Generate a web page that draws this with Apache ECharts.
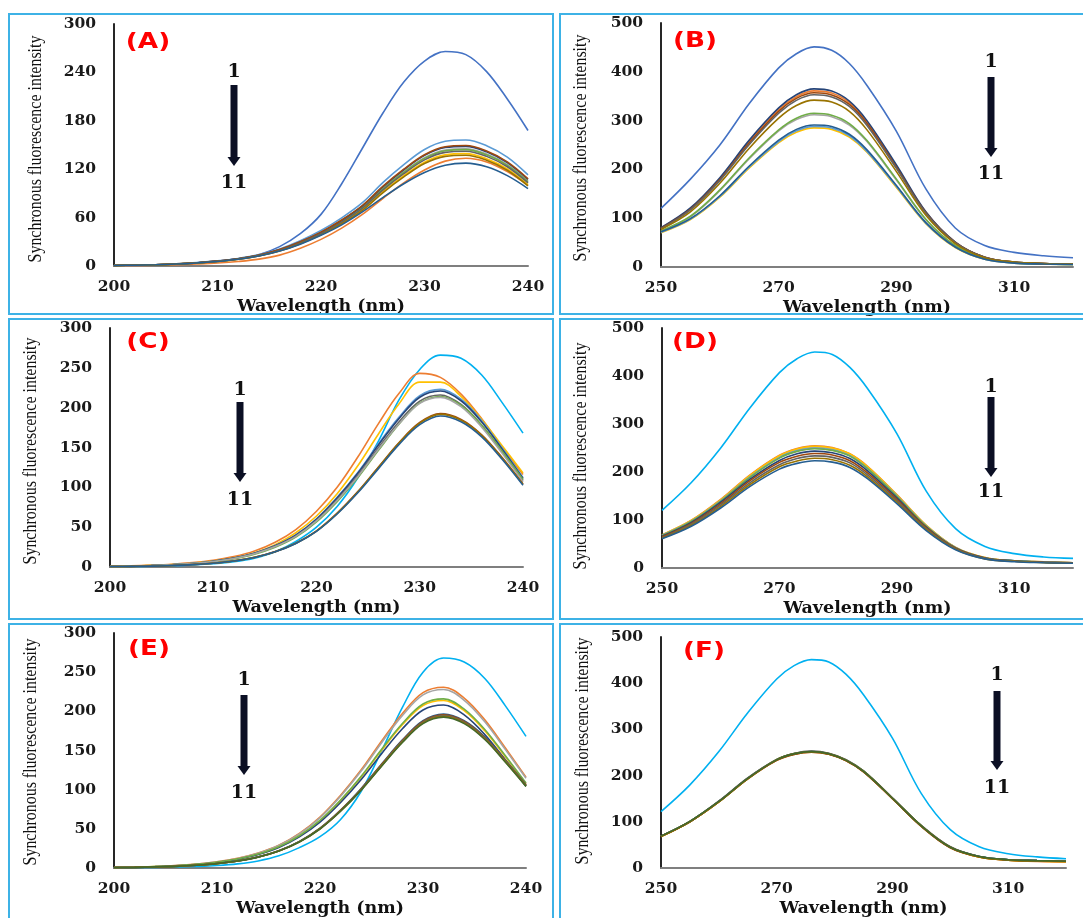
<!DOCTYPE html>
<html>
<head>
<meta charset="utf-8">
<script src="https://cdn.jsdelivr.net/npm/echarts@6/dist/echarts.min.js"></script>
<style>
  html, body { margin: 0; padding: 0; background: #fff; }
  #main { width: 1083px; height: 918px; }
</style>
</head>
<body>
<div id="main"></div>
<script>
// wavelengths (nm)
const wlShort = [200,202,204,206,208,210,212,214,216,218,220,222,224,226,228,230,232,234,236,238,240]
const wlLong = [250,255,260,265,270,273,276,279,282,285,290,295,300,305,310,315,320]
const labelsShort = [200,210,220,230,240]
const labelsLong = [250,270,290,310]

const panelTags = ['(A)','(B)','(C)','(D)','(E)','(F)']
const yTitle = 'Synchronous fluorescence intensity'

// (A) spectra 1..11
const specA = [
  [1,1,1.5,2.5,4,6,9,14,24,40,64,102,146,190,228,254,266,262,241,207,168],
  [0.5,0.7,1,1.6,2.5,3.7,5.6,8.5,13.5,22,33,47,64,84,103,119,130,133.5,129,117,100],
  [0.7,1,1.5,2.5,3.9,5.8,8.8,13.1,19.7,29.2,40.9,55.5,73,96.4,116.8,134.3,143.8,145.3,138.7,125.6,105.1],
  [0.7,1,1.4,2.4,3.8,5.6,8.4,12.6,18.9,28,39.2,53.2,70,92.4,112,128.8,137.9,139.3,133,120.4,100.8],
  [0.8,1.1,1.6,2.7,4.2,6.3,9.4,14.1,21.2,31.4,44,59.7,78.5,103.6,125.6,144.4,154.6,156.2,149.2,135,113],
  [0.7,1,1.5,2.5,3.9,5.8,8.7,13,19.6,29,40.6,55.1,72.5,95.7,116,133.4,142.8,144.3,137.8,124.7,104.4],
  [0.7,1,1.5,2.5,4,6,8.9,13.4,20.1,29.8,41.7,56.6,74.5,98.3,119.2,137.1,146.8,148.3,141.6,128.1,107.3],
  [0.8,1.1,1.5,2.6,4.1,6,9,13.5,20.3,30,42,57,75,99,120,138,147.8,149.3,142.5,129,108],
  [0.7,1,1.4,2.4,3.9,5.7,8.6,12.9,19.3,28.6,40,54.3,71.5,94.4,114.4,131.6,140.9,142.3,135.9,123,103],
  [0.7,1,1.4,2.3,3.7,5.5,8.3,12.4,18.6,27.6,38.6,52.4,69,91.1,110.4,127,135.9,137.3,131.1,118.7,99.4],
  [0.7,1,1.5,2.4,3.8,5.6,8.3,12.3,18.5,27,38,51,67,85,102,116,125,127.5,123,112,96]
]

// (B)
const specB = [
  [120,180,250,335,408,437,451,444,417,372,278,160,80,44,30,23,19],
  [80,119.5,181,257,322,349,361,356.5,337,297,206,112,51,20,10,7,6],
  [73,103,156.5,222,279,302,312,308,291,257,178,97,44,18,9,6,5],
  [70,97,143,203,255,276,285,282,266,235,163,89,40,16,8,6,5],
  [71,98,144.5,205,257,279,288,285,269,237,165,90,41,16,8,6,5],
  [74,104,158,224,281,305,315,311,294,259,180,98,44,18,9,6,5],
  [80.5,121,183,260,326,353,365,360.5,340,300,209,113,51,20,10,7,6],
  [79,118,179,254,319,345.5,357,352.5,333,294,204,111,50,20,10,7,6],
  [78,117,177,251,315,341.5,353,348.5,329,290,202,110,50,20,10,7,6],
  [77,113,171.5,243.5,305,331,342,338,319,281,195.5,106,48,19,10,7,6],
  [72,99,146,207,260,282,291,288,272,240,167,91,41,16,8,6,5]
]

// (C)
const specC = [
  [0.5,0.7,1,1.5,2.5,4,6.5,11,19,32,50,76,112,158,210,248,266,262,241,206,168],
  [1,1.5,2.3,3.5,5.5,8.5,13,20,31,47,70,100,138,180,218,243,238,217,186,150,116],
  [0.8,1.2,2,3,4.8,7.5,11.5,18,28,43,64,92,127,167,205,232,232,214,185,152,118],
  [0.7,1.1,1.8,2.9,4.5,7.2,11.2,17.5,26.9,40.3,60.5,87.4,118.7,154.6,188.2,215,222.9,210.6,183.7,149,112],
  [0.7,1.1,1.8,2.9,4.4,7.1,11.1,17.3,26.6,40,59.9,86.6,117.7,153.2,186.5,213.1,220.9,208.7,182,147.6,111],
  [0.7,1.1,1.7,2.8,4.3,6.9,10.9,16.9,26,39,58.6,84.6,115,149.7,182.3,208.3,215.9,204,178,144.3,108.5],
  [0.6,1,1.6,2.6,4.1,6.6,10.3,16,24.8,37.5,56.5,82,112,146.5,179.5,206,214,203,178,145,110],
  [0.6,1,1.7,2.8,4.3,6.8,10.7,16.7,25.7,38.5,57.8,83.5,113.4,147.7,179.8,205.4,212.9,201.2,175.5,142.3,107],
  [0.6,0.8,1.2,1.9,3.1,4.8,7.7,12.2,19.3,29.9,45.4,67.6,94.6,125.5,156.3,181.4,192.6,185.3,166,137,104.2],
  [0.6,0.8,1.2,1.9,3.1,4.8,7.7,12.1,19.2,29.8,45.1,67.2,94.1,124.8,155.5,180.5,191.6,184.3,165.1,136.3,103.7],
  [0.6,0.8,1.1,1.9,3,4.8,7.6,12,19,29.5,44.7,66.5,93.1,123.5,153.9,178.6,189.6,182.4,163.4,134.9,102.6]
]

// (D)
const specD = [
  [120,178,250,334,407,436,450,445,418,374,280,160,82,45,30,23,20],
  [69,99.5,143,194,235,249,254.5,251,238,212,153,89,43,22,15,13,11],
  [68,98,141,192,232,246,251.5,248,235.5,209,151,88,43,21,15,13,11],
  [69,99,142,193,234,248,253.5,250,237.5,211,152,89,43,22,15,13,11],
  [68,97.5,140,190,230,244,249.5,246,234,207.5,150,87.5,42.5,21,15,12.5,11],
  [67,97,139,189,229,243,248.5,245,233,207,149,87,42,21,15,12,11],
  [66,95,137,185,224,238,243.5,240,228,202.5,146,85,41,21,15,12,11],
  [65,93,134,182,220,233,238.5,235.5,223.5,198,143,84,41,20,14,12,11],
  [63,91,131,178,215,228,233.5,230.5,219,194,140,82,40,20,14,12,10],
  [62,89,128,174,211,223,228.5,225.5,214,190,137,80,39,19,14,11,10],
  [61,87,125,170,206,218,223.5,220.5,209.5,186,134,78,38,19,13,11,10]
]

// (E)
const specE = [
  [0.3,0.5,0.8,1.2,2,3.2,5.3,9,15.5,26,40,62,98,150,205,250,268,263,242,207,168],
  [0.7,1.2,1.9,3,4.9,7.9,12.3,19,29,44.1,65,92.8,125.3,162.4,197.2,223.9,230.8,216.9,189.1,153.1,116],
  [0.7,1.1,1.8,3,4.8,7.8,12.1,18.8,28.6,43.5,64.1,91.6,123.7,160.3,194.7,221,227.9,214.1,186.6,151.1,114.5],
  [0.6,1.1,1.7,2.8,4.5,7.3,11.4,17.6,26.9,40.9,60.2,86,116.1,150.5,182.8,207.5,213.9,201,175.2,141.9,107.5],
  [0.6,1,1.7,2.7,4.4,7.1,11.1,17.1,26.1,39.7,58.5,83.6,112.9,146.3,177.7,201.7,208,195.4,170.3,137.9,104.5],
  [0.7,1.1,1.7,2.8,4.6,7.4,11.5,17.8,27.1,41.2,60.8,86.8,117.2,151.9,184.5,209.4,215.9,202.9,176.9,143.2,108.5],
  [0.6,0.8,1.4,2.2,3.5,5.7,9.1,14.2,22.1,33.9,50.8,73.9,101.5,133,163.5,188.1,196.6,188.1,167.5,137.9,106.4],
  [0.6,0.8,1.4,2.2,3.5,5.7,9,14.1,22,33.7,50.6,73.5,100.9,132.3,162.7,187.2,195.6,187.2,166.6,137.2,105.8],
  [0.6,0.8,1.4,2.1,3.5,5.7,9,14,21.8,33.5,50.3,73.1,100.4,131.6,161.9,186.2,194.6,186.2,165.8,136.5,105.3],
  [0.6,0.8,1.4,2.1,3.5,5.6,8.9,14,21.7,33.4,50.1,72.8,99.9,131,161,185.3,193.6,185.3,164.9,135.8,104.8],
  [0.6,0.8,1.4,2.1,3.5,5.6,8.9,13.9,21.6,33.2,49.8,72.4,99.4,130.3,160.2,184.3,192.6,184.3,164,135.1,104.2]
]

// (F)
const specF = [
  [122,180,252,336,409,438,451,446,419,375,281,161,83,46,31,24,20],
  [68,100,143,193,233,246,250.5,246,232,208,150,90,44,24,17,14,13],
  [69,101,144,195,235,248,252.5,248,234,210,152,92,46,25,18,16,15],
  [68,100,143,194,234,247,251.5,247,233,209,151,91,45,24,17,15,13.5],
  [69,101,144,194,234,247,252,247.5,233,209,151,91,45,25,18,16,14.5],
  [69,101,144,194,235,248,252,248,234,210,151,91,45,25,18,16,14.5],
  [69,100,144,194,234,247,251.5,247,233,209,151,91,45,25,18,16,14.5],
  [68,100,143,193,233,246,250.5,246,232,208,150,90,44,24,17,15,14],
  [69,101,145,195,235,248,253,248.5,234.5,210,152,92,46,25,18,16,15],
  [68,100,143,193,234,247,251,247,233,209,151,91,45,24,17,15,14],
  [69,101,144,194,234,247,252,247.5,233,209,151,91,45,25,18,16,14.5]
]

// line colours (Excel-like palette)
const colA = ['#4472C4','#ED7D31','#A5A5A5','#FFC000','#5B9BD5','#70AD47','#264478','#9E480E','#636363','#997300','#255E91']
const colB = ['#4472C4','#ED7D31','#A5A5A5','#FFC000','#5B9BD5','#70AD47','#264478','#9E480E','#636363','#997300','#255E91']
const colC = ['#00B0F0','#ED7D31','#FFC000','#5B9BD5','#264478','#636363','#70AD47','#A5A5A5','#9E480E','#997300','#255E91']
const colD = ['#00B0F0','#ED7D31','#A5A5A5','#FFC000','#5B9BD5','#70AD47','#264478','#9E480E','#636363','#997300','#255E91']
const colE = ['#00B0F0','#ED7D31','#A5A5A5','#FFC000','#264478','#70AD47','#255E91','#9E480E','#636363','#997300','#43682B']
const colF = ['#00B0F0','#ED7D31','#A5A5A5','#FFC000','#5B9BD5','#70AD47','#264478','#9E480E','#636363','#997300','#43682B']

// layout of the six panels (pixels)
const panels = [
  {spec: specA, col: colA, wl: wlShort, grid: {left:114, top:24, width:414, height:242}, x: [200,240,10], y: [0,300,60], box: [9,14,544,300], tag: [148,43], arrow: [234,72,85,158,183], yName: [36,149]},
  {spec: specB, col: colB, wl: wlLong, grid: {left:661, top:23, width:412, height:244}, x: [250,320,10], y: [0,500,100], box: [560,14,530,300], tag: [695,42], arrow: [991,62,77,149,174], yName: [581,148]},
  {spec: specC, col: colC, wl: wlShort, grid: {left:110, top:328, width:413, height:239}, x: [200,240,10], y: [0,300,50], box: [9,319,544,300], tag: [148,343], arrow: [240,390,402,474,500], yName: [31,451]},
  {spec: specD, col: colD, wl: wlLong, grid: {left:662, top:328, width:411, height:240}, x: [250,320,10], y: [0,500,100], box: [560,319,530,300], tag: [695,343], arrow: [991,387,397,469,492], yName: [581,456]},
  {spec: specE, col: colE, wl: wlShort, grid: {left:114, top:633, width:412, height:238}, x: [200,240,10], y: [0,300,50], box: [9,624,544,300], tag: [149,650], arrow: [244,680,695,767,793], yName: [31,752]},
  {spec: specF, col: colF, wl: wlLong, grid: {left:661, top:637, width:405, height:234}, x: [250,320,10], y: [0,500,100], box: [560,624,530,300], tag: [704,652], arrow: [997,675,691,762,788], yName: [583,751]}
]

const tickFont = {fontFamily: '"DejaVu Serif"', fontWeight: 'bold', fontSize: 15.5, color: '#1a1a1a'}

const option = {
  backgroundColor: '#fff',
  animation: false,
  grid: panels.map(p => Object.assign({containLabel: false}, p.grid)),
  xAxis: panels.map((p, i) => {
    const shortAxis = p.wl === wlShort
    return {
      type: 'value', gridIndex: i, min: p.x[0], max: p.x[1], interval: p.x[2],
      name: 'Wavelength (nm)', nameLocation: 'middle', nameGap: 31,
      nameTextStyle: {fontFamily: '"DejaVu Serif"', fontWeight: 'bold', fontSize: 17.5, color: '#111'},
      axisLine: {show: true, lineStyle: {color: '#7f7f7f', width: 2}},
      axisTick: {show: false}, splitLine: {show: false},
      axisLabel: Object.assign({margin: 13, formatter: v => (shortAxis ? labelsShort : labelsLong).includes(v) ? String(v) : ''}, tickFont)
    }
  }),
  yAxis: panels.map((p, i) => ({
    type: 'value', gridIndex: i, min: p.y[0], max: p.y[1], interval: p.y[2],
    axisLine: {show: true, lineStyle: {color: '#262626', width: 2}},
    axisTick: {show: false}, splitLine: {show: false},
    axisLabel: Object.assign({margin: 18}, tickFont)
  })),
  series: [],
  graphic: []
}

panels.forEach((p, i) => {
  p.spec.forEach((vals, j) => {
    option.series.push({
      type: 'line', xAxisIndex: i, yAxisIndex: i, name: String(j + 1),
      data: p.wl.map((w, k) => [w, vals[k]]),
      showSymbol: false, smooth: 0.35, silent: true, clip: false,
      lineStyle: {width: 1.6, color: p.col[j]}, itemStyle: {color: p.col[j]}
    })
  })
  const [bx, by, bw, bh] = p.box
  option.graphic.push({type: 'rect', shape: {x: bx, y: by, width: bw, height: bh}, style: {fill: 'none', stroke: '#3DB2E6', lineWidth: 2}, silent: true, z: 100})
  option.graphic.push({type: 'text', x: p.tag[0], y: p.tag[1], scaleX: 1.25, style: {text: panelTags[i], fill: '#FF0000', font: 'bold 21px "DejaVu Sans"', align: 'center', verticalAlign: 'middle'}, z: 100})
  // condensed serif y title, as in the original figure
  option.graphic.push({type: 'text', x: p.yName[0], y: p.yName[1], rotation: Math.PI / 2, scaleX: 0.84, style: {text: yTitle, fill: '#111', font: '19px "Liberation Serif"', align: 'center', verticalAlign: 'middle'}, z: 100})
  const [ax, t1y, top, bottom, t2y] = p.arrow
  option.graphic.push({type: 'text', x: ax, y: t1y, style: {text: '1', fill: '#111', font: 'bold 19px "DejaVu Serif"', align: 'center', verticalAlign: 'middle'}, z: 100})
  option.graphic.push({type: 'text', x: ax, y: t2y, style: {text: '11', fill: '#111', font: 'bold 19px "DejaVu Serif"', align: 'center', verticalAlign: 'middle'}, z: 100})
  option.graphic.push({type: 'rect', shape: {x: ax - 3.5, y: top, width: 7, height: bottom - top}, style: {fill: '#0b0f24'}, z: 100})
  option.graphic.push({type: 'polygon', shape: {points: [[ax - 6.5, bottom - 1], [ax + 6.5, bottom - 1], [ax, bottom + 8]]}, style: {fill: '#0b0f24'}, z: 100})
})

const chart = echarts.init(document.getElementById('main'), null, {renderer: 'canvas'})
chart.setOption(option)
</script>
</body>
</html>
